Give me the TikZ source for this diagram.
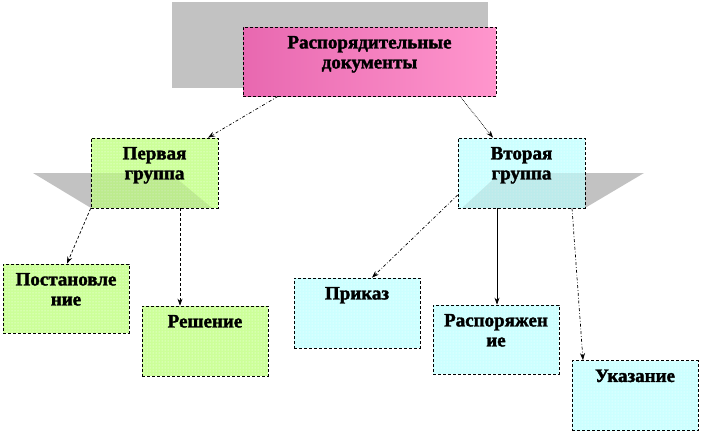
\documentclass[tikz,border=0pt]{standalone}
\usepackage{fontspec}
\setmainfont{Liberation Serif}[BoldFeatures={FakeBold=1.8}]
\usetikzlibrary{arrows.meta,positioning,patterns}

\definecolor{docL}{RGB}{232,104,176}
\definecolor{docR}{RGB}{255,150,205}
\definecolor{grp1}{RGB}{204,255,153}
\definecolor{grp2}{RGB}{204,255,255}

\begin{document}
\begin{tikzpicture}[x=1pt,y=-1pt,>={Stealth[length=7pt,width=5pt]},
  line width=0.7pt,
  doc node/.style={rectangle,draw,densely dashed,inner sep=0pt,
    minimum width=126pt,minimum height=70pt},
  green node/.style={doc node,preaction={fill=grp1},pattern=dots,pattern color=white},
  blue node/.style={doc node,preaction={fill=grp2},pattern=dots,pattern color=white},
  txt/.style={inner sep=0pt,align=center,font=\fontsize{19}{20}\selectfont\bfseries},
  shade/.style={fill=black!24,draw=none}]

  \useasboundingbox (0,0) rectangle (702,434);

  % shadows behind the boxes
  \fill[shade] (172,2) rectangle (488,88);
  \fill[shade] (33,173) -- (170,173) -- (212,208) -- (91,208) -- cycle;
  \fill[shade] (644,173) -- (500,173) -- (462,208) -- (585,208) -- cycle;

  \node[doc node,minimum width=253pt,minimum height=69pt,
    left color=docL,right color=docR] (top) at (369.5,61.5) {};
  \node[green node,minimum width=127pt] (perv) at (154.5,173) {};
  \node[blue node,minimum width=127pt] (vtor) at (521.5,173) {};
  \node[green node,minimum height=69pt] (post) at (66,298.5) {};
  \node[green node] (resh) at (205,341) {};
  \node[blue node] (prik) at (357,313) {};
  \node[blue node,minimum height=69pt] (rasp) at (496,339.5) {};
  \node[blue node] (ukaz) at (635,395.5) {};

  % darker part of the shadow over the group boxes
  \begin{scope}
    \clip (perv.south west) rectangle (perv.north east);
    \fill[black,opacity=0.08] (33,173) -- (170,173) -- (212,208) -- (91,208) -- cycle;
  \end{scope}
  \begin{scope}
    \clip (vtor.south west) rectangle (vtor.north east);
    \fill[black,opacity=0.08] (644,173) -- (500,173) -- (462,208) -- (585,208) -- cycle;
  \end{scope}

  \node[txt,below=9pt of top.north] (topT) {Распорядительные\\документы};
  \node[txt,below=9pt of perv.north] (pervT) {Первая\\группа};
  \node[txt,below=9pt of vtor.north] (vtorT) {Вторая\\группа};
  \node[txt,below=9pt of post.north] (postT) {Постановле\\ние};
  \node[txt,below=9pt of resh.north] (reshT) {Решение};
  \node[txt,below=9pt of prik.north] (prikT) {Приказ};
  \node[txt,below=9pt of rasp.north] (raspT) {Распоряжен\\ие};
  \node[txt,below=9pt of ukaz.north] (ukazT) {Указание};

  \path[->]
    ([xshift=-91.5pt]top.south) edge[dash dot] ([xshift=53.5pt]perv.north)
    ([xshift=90.5pt]top.south) edge[densely dotted] ([xshift=-28.5pt]vtor.north)
    (perv.south west) edge[densely dashed] ([xshift=1pt]post.north)
    ([xshift=25.5pt]perv.south) edge[densely dashed] ([xshift=-25pt]resh.north)
    ([yshift=-22pt]vtor.west) edge[dash dot] ([xshift=15pt]prik.north)
    ([xshift=-24.5pt]vtor.south) edge ([xshift=1pt]rasp.north)
    ([xshift=50.5pt]vtor.south) edge[dash dot] ([xshift=-52pt]ukaz.north);
\end{tikzpicture}
\end{document}
